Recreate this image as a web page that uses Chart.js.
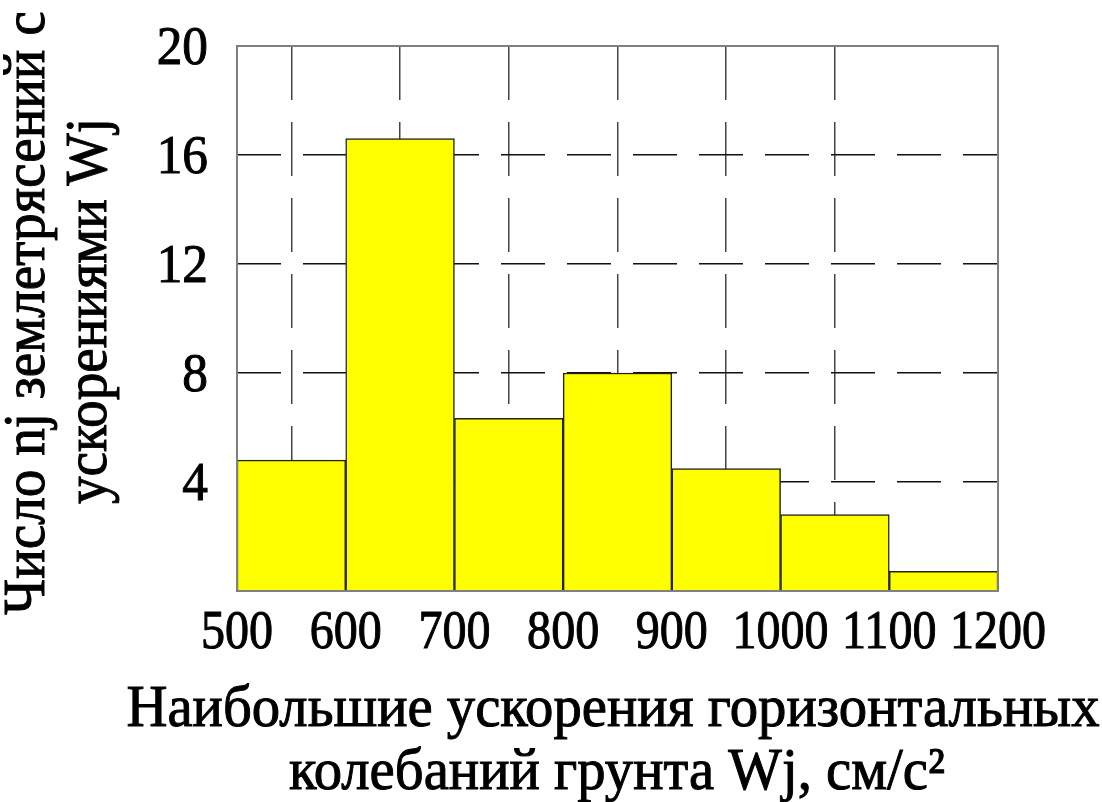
<!DOCTYPE html>
<html>
<head>
<meta charset="utf-8">
<script src="https://cdn.jsdelivr.net/npm/chart.js@4/dist/chart.umd.min.js"></script>
<style>
    html, body { margin: 0; padding: 0; background: #fff; }
    canvas { display: block; }
</style>
</head>
<body>
<canvas id="histChart" width="1102" height="802"></canvas>
<script>
// bin centres (cm/s^2) and counts
const binCenters = [550, 650, 750, 850, 950, 1050, 1150];
const counts = [4.8, 16.6, 6.34, 8.0, 4.49, 2.8, 0.72];
const xTicks = [500, 600, 700, 800, 900, 1000, 1100, 1200];
const yTicks = [4, 8, 12, 16, 20];
const xTitle = ['Наибольшие ускорения горизонтальных', 'колебаний грунта Wj, см/с²'];
const yTitle = ['Число nj землетрясений с', 'ускорениями Wj'];

const FONT = '"Liberation Serif", "Times New Roman", serif';

// narrow text, like the original picture
function drawText(ctx, text, x, y, size, sx, align, rot) {
    ctx.save();
    ctx.translate(x, y);
    if (rot) ctx.rotate(rot);
    ctx.scale(sx, 1);
    ctx.font = size + 'px ' + FONT;
    ctx.fillStyle = '#000';
    ctx.strokeStyle = '#000';
    ctx.lineWidth = 1;
    ctx.textAlign = align;
    ctx.textBaseline = 'alphabetic';
    ctx.fillText(text, 0, 0);
    ctx.strokeText(text, 0, 0);
    ctx.restore();
}

function edgeTick(c, a, b) {
    return c.tick && (c.tick.value === a || c.tick.value === b);
}

const textPlugin = {
    id: 'textPlugin',
    afterDraw: function (chart) {
        const ctx = chart.ctx,
            xs = chart.scales.x,
            ys = chart.scales.y,
            area = chart.chartArea;

        // frame
        ctx.save();
        ctx.strokeStyle = '#808080';
        ctx.lineWidth = 2;
        ctx.strokeRect(area.left, area.top, area.right - area.left, area.bottom - area.top);
        ctx.restore();

        xTicks.forEach(v => {
            drawText(ctx, String(v), xs.getPixelForValue(v), 648, 54, 0.89, 'center');
        });
        yTicks.forEach(v => {
            drawText(ctx, String(v), 208, ys.getPixelForValue(v) + 18, 54, 0.95, 'right');
        });

        drawText(ctx, xTitle[0], 613, 726, 60, 0.945, 'center');
        drawText(ctx, xTitle[1], 617, 789, 60, 0.945, 'center');

        drawText(ctx, yTitle[0], 44, 313, 60, 0.92, 'center', -Math.PI / 2);
        drawText(ctx, yTitle[1], 106, 311, 60, 0.92, 'center', -Math.PI / 2);
    }
};

const data = binCenters.map((c, i) => ({ x: c, y: counts[i] }));

new Chart(document.getElementById('histChart'), {
    type: 'bar',
    data: {
        datasets: [{
            data: data,
            backgroundColor: '#ffff00',
            borderColor: '#222222',
            borderWidth: 1.5,
            barPercentage: 1,
            categoryPercentage: 1
        }]
    },
    options: {
        responsive: false,
        animation: false,
        layout: {
            padding: { left: 237, right: 104, top: 46, bottom: 211 }
        },
        plugins: {
            legend: { display: false },
            tooltip: { enabled: false }
        },
        scales: {
            x: {
                type: 'linear',
                min: 500,
                max: 1200,
                offset: false,
                ticks: { display: false, stepSize: 100 },
                grid: {
                    drawTicks: false,
                    color: c => edgeTick(c, 500, 1200) ? 'rgba(0,0,0,0)' : '#444',
                    lineWidth: 1.5
                },
                border: { display: false, dash: [54, 22] }
            },
            y: {
                min: 0,
                max: 20,
                ticks: { display: false, stepSize: 4 },
                grid: {
                    drawTicks: false,
                    color: c => edgeTick(c, 0, 20) ? 'rgba(0,0,0,0)' : '#111',
                    lineWidth: 1.5
                },
                border: { display: false, dash: [44, 22] }
            }
        }
    },
    plugins: [textPlugin]
});
</script>
</body>
</html>
